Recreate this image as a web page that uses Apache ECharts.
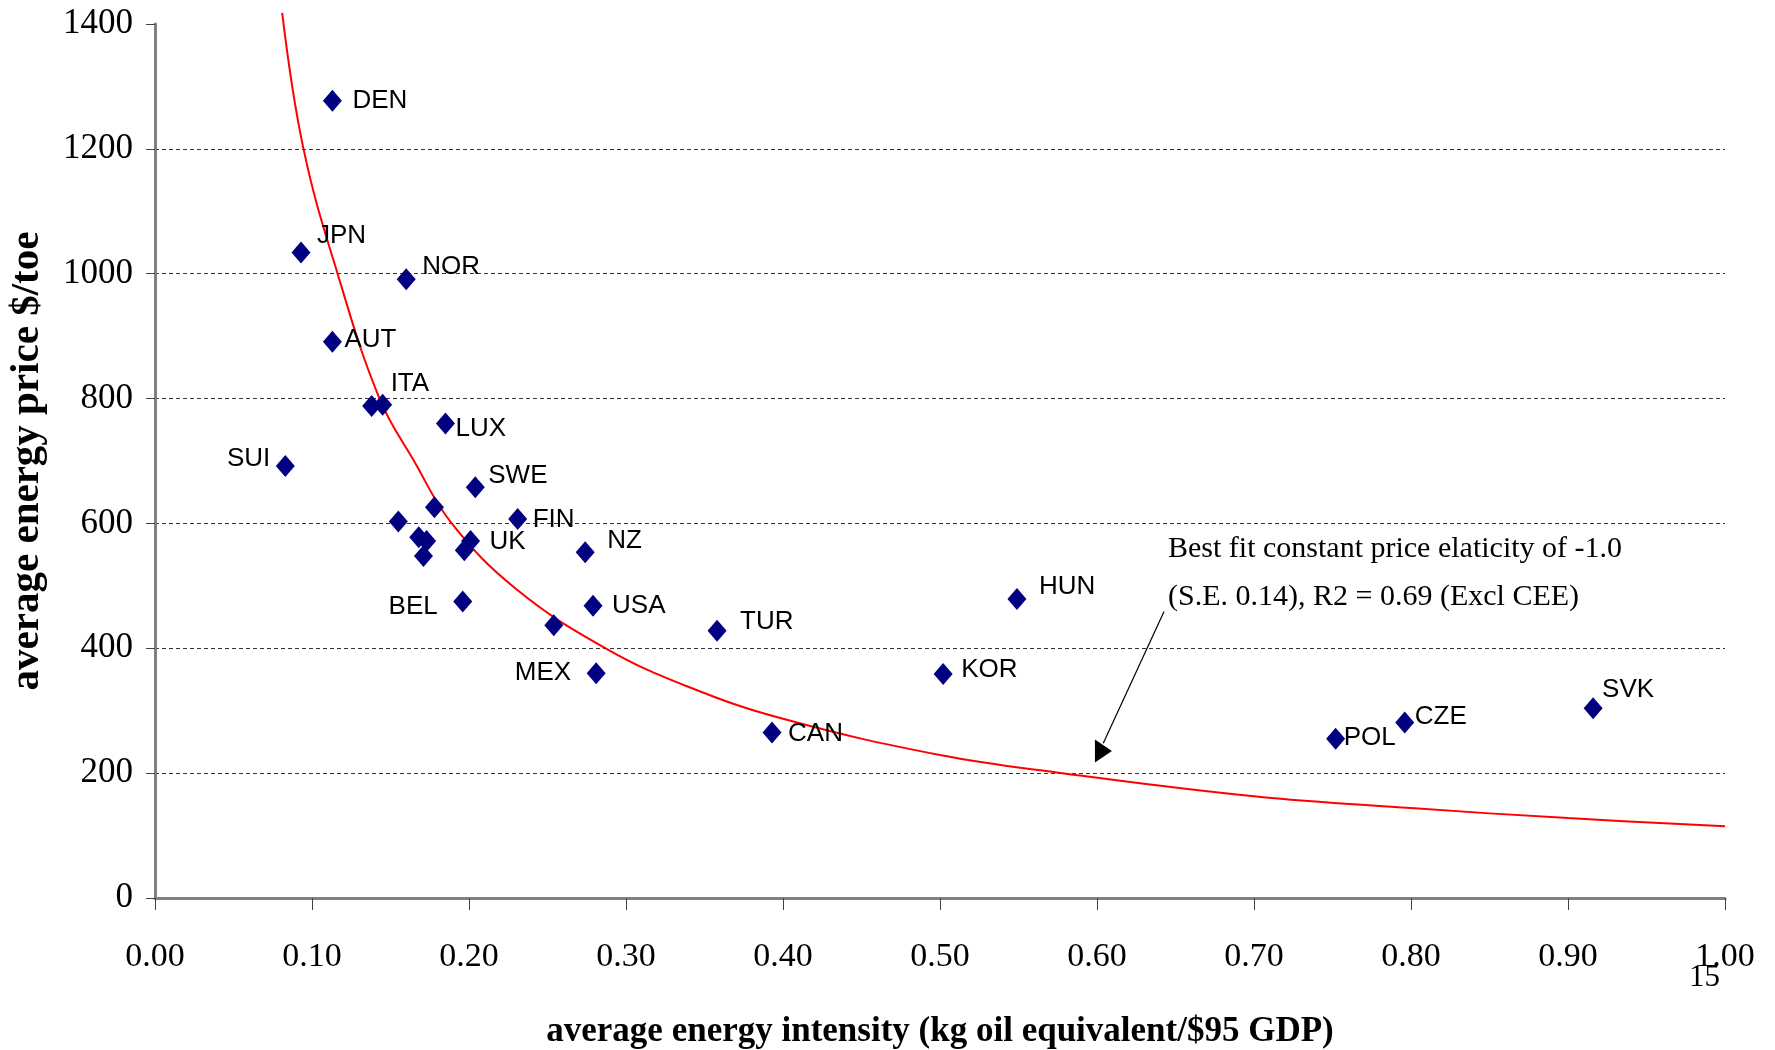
<!DOCTYPE html>
<html>
<head>
<meta charset="utf-8">
<script src="https://cdn.jsdelivr.net/npm/echarts@6/dist/echarts.min.js"></script>
<style>
html,body{margin:0;padding:0;background:#fff;}
#chart{width:1775px;height:1050px;}
</style>
</head>
<body>
<div id="chart"></div>
<script>
// ---- data ----
const countries = ['DEN','JPN','NOR','AUT','','ITA','LUX','SUI','SWE','','','FIN','','','','UK','','NZ','BEL','USA','','TUR','MEX','CAN','HUN','KOR','POL','CZE','SVK'];
const intensity = [0.113,0.093,0.160,0.113,0.138,0.145,0.185,0.083,0.204,0.178,0.155,0.231,0.168,0.173,0.171,0.201,0.197,0.274,0.196,0.279,0.254,0.358,0.281,0.393,0.549,0.502,0.752,0.796,0.916];
const price     = [1277,1034,991,891,788,790,760,692,658,626,603,607,578,572,548,572,557,554,475,468,437,428,360,265,479,359,255,281,304];

// fitted constant-elasticity curve
const fitX = [0.081,0.0946,0.1163,0.143,0.165,0.189,0.23,0.287,0.34,0.40,0.50,0.578,0.70,0.80,0.90,1.00];
const fitY = [1418,1200,1000,800,700,600,495,400,338,287,229,200,163,144,128,115];

// annotation arrow (data coordinates)
const arrowStart = [0.6427,459];
const arrowEnd   = [0.604,248];
const arrowHead  = [0.6041,235.5];

const xTicks = {min:0, max:1, interval:0.1};
const yTicks = {min:0, max:1400, interval:200};

const annotationText = 'Best fit constant price elaticity of -1.0\n(S.E. 0.14), R2 = 0.69 (Excl CEE)';
const xTitle = 'average energy intensity (kg oil equivalent/$95 GDP)';
const yTitle = 'average energy price $/toe';

// ---- label placement (style, not data) ----
const labelOffsets = {
  DEN:[20,0], JPN:[16,-17], NOR:[16,-13], AUT:[12,-2], ITA:[8,-21], LUX:[10,5],
  SUI:[-15,-7,'right'], SWE:[13,-11], FIN:[15,1], UK:[19,1], NZ:[22,-11],
  BEL:[-25,5,'right'], USA:[19,0], MEX:[-25,0,'right'], TUR:[23,-9], CAN:[16,1],
  HUN:[22,-12], KOR:[18,-4], POL:[8,-1], CZE:[10,-6], SVK:[9,-18]
};

const scatterData = countries.map((c,i)=>{
  const item = {name:c, value:[intensity[i], price[i]]};
  if (c && labelOffsets[c]) {
    const o = labelOffsets[c];
    item.label = {show:true, offset:[o[0],o[1]], align:o[2]||'left'};
  }
  return item;
});
const fitData = fitX.map((x,i)=>[x, fitY[i]]);

const serif = '"Liberation Serif","Times New Roman",serif';
const sans = '"Liberation Sans",Arial,sans-serif';

const chart = echarts.init(document.getElementById('chart'), null, {renderer:'canvas'});
chart.setOption({
  animation:false,
  backgroundColor:'#fff',
  grid:{left:155, right:50, top:24, bottom:152, containLabel:false, outerBoundsMode:'none'},
  xAxis:[{
    type:'value', min:xTicks.min, max:xTicks.max, interval:xTicks.interval,
    name:xTitle, nameLocation:'middle', nameGap:116,
    nameTextStyle:{fontFamily:serif, fontWeight:'bold', fontSize:35, color:'#000'},
    axisLine:{show:true, onZero:false, lineStyle:{color:'#c0c0c0', width:1}},
    axisTick:{show:true, length:12, lineStyle:{color:'#444', width:1}},
    axisLabel:{margin:42, fontFamily:serif, fontSize:34, color:'#000', formatter:v=>v.toFixed(2)},
    splitLine:{show:false}
  },{
    type:'value', position:'top', min:xTicks.min, max:xTicks.max,
    axisLine:{show:true, lineStyle:{color:'#808080', width:3}},
    axisTick:{show:false}, axisLabel:{show:false}, splitLine:{show:false}
  }],
  yAxis:[{
    type:'value', min:yTicks.min, max:yTicks.max, interval:yTicks.interval,
    name:yTitle, nameLocation:'middle', nameGap:107,
    nameTextStyle:{fontFamily:serif, fontWeight:'bold', fontSize:41, color:'#000'},
    axisLine:{show:true, onZero:false, lineStyle:{color:'#000', width:2}},
    axisTick:{show:true, length:9, lineStyle:{color:'#444', width:1}},
    axisLabel:{margin:22, fontFamily:serif, fontSize:35, color:'#000', formatter:v=>String(v)},
    splitLine:{show:true, showMinLine:false, showMaxLine:false, lineStyle:{color:'#333', width:1, type:[4,3]}}
  },{
    type:'value', position:'right', min:yTicks.min, max:yTicks.max,
    axisLine:{show:true, lineStyle:{color:'#808080', width:3}},
    axisTick:{show:false}, axisLabel:{show:false}, splitLine:{show:false}
  }],
  series:[{
    type:'line', data:fitData, smooth:0.4, showSymbol:false, clip:false,
    lineStyle:{color:'#ff0000', width:2}, z:2, silent:true,
    markLine:{
      silent:true, symbol:['none','none'], label:{show:false},
      lineStyle:{color:'#000', width:1.2, type:'solid'},
      data:[[{coord:arrowStart},{coord:arrowEnd}]]
    },
    markPoint:{
      silent:true, symbol:'triangle', symbolSize:[23,17], symbolRotate:-90,
      itemStyle:{color:'#000'}, label:{show:false},
      data:[{coord:arrowHead}]
    }
  },{
    type:'scatter', data:scatterData, symbol:'diamond', symbolSize:[19,22],
    itemStyle:{color:'#000080', opacity:1}, z:3,
    label:{show:false, position:'inside', formatter:'{b}', color:'#000',
      fontFamily:sans, fontSize:26, verticalAlign:'middle'}
  }],
  graphic:[{
    type:'text', left:1168, top:525,
    style:{text:annotationText, font:'30px '+serif, lineHeight:48, fill:'#000'}
  },{
    type:'text', left:1689, top:962,
    style:{text:'15', font:'31px '+serif, fill:'#000'}
  }]
});
</script>
</body>
</html>
